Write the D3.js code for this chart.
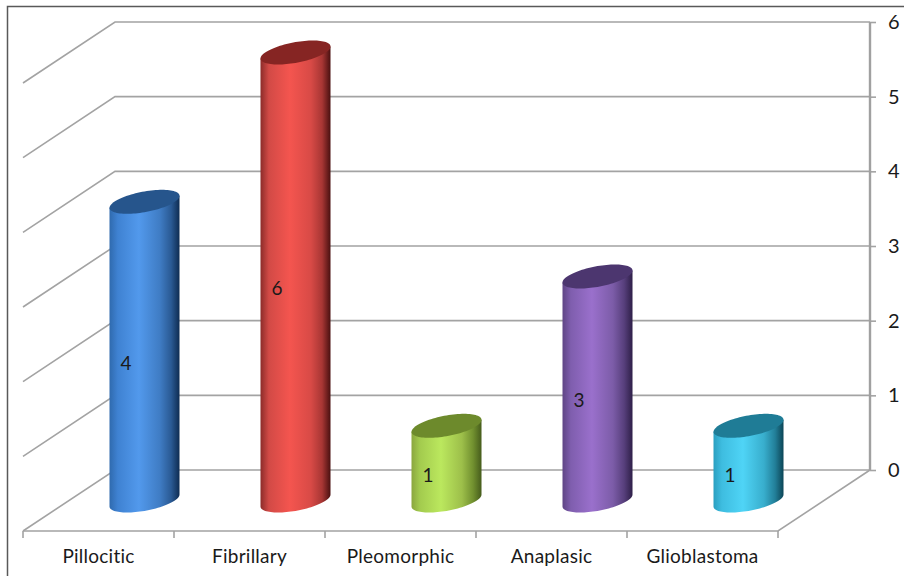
<!DOCTYPE html>
<html>
<head>
<meta charset="utf-8">
<script src="https://cdn.jsdelivr.net/npm/d3@7.9.0/dist/d3.min.js"></script>
<style>
  html, body { margin: 0; padding: 0; background: #fff; }
  svg { display: block; }
  text { font-family: Lato, "Open Sans", sans-serif; fill: #1a1a1a; }
</style>
</head>
<body>
<div id="chart"></div>
<script>
const categories = ['Pillocitic', 'Fibrillary', 'Pleomorphic', 'Anaplasic', 'Glioblastoma'];
const values = [4, 6, 1, 3, 1];
const yTicks = [0, 1, 2, 3, 4, 5, 6];
// left edge, shoulder, highlight, falloff, late falloff, right edge, lid
const barColors = [
  ['#2f6aae', '#3f82d2', '#5299ec', '#3f7cc4', '#2a5a94', '#0e2c52', '#26558c'],
  ['#8c2c2a', '#d24a46', '#f4554f', '#d84a46', '#a83634', '#4a1010', '#862523'],
  ['#8aa63e', '#a3cb4e', '#bbe85e', '#9dbf4a', '#71902f', '#465c1c', '#6d8a2c'],
  ['#5f4585', '#7f5eae', '#9a70cc', '#7c5ca8', '#573f7c', '#2e1f48', '#4c366f'],
  ['#2a9fc0', '#3ebde0', '#4fd4f6', '#38aecd', '#227f99', '#0c4556', '#1f7c96'],
];

const width = 904;
const height = 576;
const depth = { x: 92, y: 61 };
const grey = '#a3a3a3';

const svg = d3.select('#chart').append('svg')
  .attr('width', width)
  .attr('height', height);

const x = d3.scaleBand().domain(categories).range([23, 778]);
const y = d3.scaleLinear().domain([0, 6]).range([470, 22]);

// outer frame, runs off the picture on the right and bottom
svg.append('path')
  .attr('d', `M7.5,${height}V6.5H${width}`)
  .attr('fill', 'none')
  .attr('stroke', '#595959')
  .attr('stroke-width', 1.5);

// back wall + side wall gridlines
const grid = svg.append('g').attr('stroke', grey).attr('stroke-width', 1.6).attr('fill', 'none');
grid.selectAll('path')
  .data(yTicks)
  .join('path')
  .attr('d', d => `M${x.range()[0]},${y(d) + depth.y}L${x.range()[0] + depth.x},${y(d)}H${x.range()[1] + depth.x}`);

// floor
grid.append('path')
  .attr('d', `M${x.range()[0]},${y(0) + depth.y}H${x.range()[1]}L${x.range()[1] + depth.x},${y(0)}`);

// bottom ticks sit on the band edges
const edges = categories.map(c => x(c)).concat(x.range()[1]);
grid.selectAll('line.edge')
  .data(edges)
  .join('line')
  .attr('class', 'edge')
  .attr('x1', d => d).attr('x2', d => d)
  .attr('y1', y(0) + depth.y).attr('y2', y(0) + depth.y + 7);

// right value axis
const yAxis = svg.append('g')
  .attr('transform', `translate(${x.range()[1] + depth.x},0)`)
  .call(d3.axisRight(y).tickValues(yTicks).tickSize(6).tickPadding(12).tickFormat(d3.format('d')));
yAxis.select('.domain').remove();
yAxis.append('line').attr('y1', y(6)).attr('y2', y(0)).attr('stroke', '#a0a0a0').attr('stroke-width', 2.4);
yAxis.selectAll('.tick line').attr('stroke', grey).attr('stroke-width', 1.6);
yAxis.selectAll('text').style('font-size', '20px').attr('fill', '#1a1a1a');

// category labels
const xAxis = svg.append('g')
  .attr('transform', `translate(0,${y(0) + depth.y})`)
  .call(d3.axisBottom(x).tickSize(0).tickPadding(19));
xAxis.select('.domain').remove();
xAxis.selectAll('text')
  .style('font-size', '19px')
  .style('letter-spacing', '0.25px')
  .attr('fill', '#1a1a1a');

// cylinders
const defs = svg.append('defs');
const rx = 35;
const tiltY = 6;
const swellY = 10.4;
const cx = d => x(d) + x.bandwidth() / 2 + depth.x / 2;
const baseY = y(0) + depth.y / 2;
const topY = v => y(v) + depth.y / 2;
const rim = (t) => [rx * Math.cos(t), -tiltY * Math.cos(t) + swellY * Math.sin(t)];
const lineGen = d3.line();
const steps = d3.range(0, 49).map(i => i / 48 * Math.PI);
const lid = d3.range(0, 97).map(i => i / 48 * Math.PI);

const bars = svg.append('g').selectAll('g')
  .data(categories.map((c, i) => ({ c, v: values[i], col: barColors[i], i })))
  .join('g')
  .attr('transform', d => `translate(${cx(d.c)},0)`);

bars.each(function (d) {
  const g = defs.append('linearGradient').attr('id', `cyl${d.i}`);
  [0, 0.12, 0.42, 0.72, 0.88, 1].forEach((o, k) => {
    g.append('stop').attr('offset', o).attr('stop-color', d.col[k]);
  });
});

bars.append('path')
  .attr('fill', d => `url(#cyl${d.i})`)
  .attr('d', d => {
    // right side down, front rim of the base, left side up, then the lid on top
    const bottom = steps.map(t => { const p = rim(t); return [p[0], p[1] + baseY]; });
    return lineGen([[rx, topY(d.v) - tiltY], ...bottom, [-rx, topY(d.v) + tiltY]]) + 'Z';
  });

bars.append('path')
  .attr('fill', d => d.col[6])
  .attr('d', d => lineGen(lid.map(t => { const p = rim(t); return [p[0], p[1] + topY(d.v)]; })) + 'Z');

bars.append('text')
  .attr('x', -18.5)
  .attr('y', d => (topY(d.v) + baseY) / 2 + 18.5)
  .attr('text-anchor', 'middle')
  .style('font-size', '19px')
  .text(d => d.v);
</script>
</body>
</html>
